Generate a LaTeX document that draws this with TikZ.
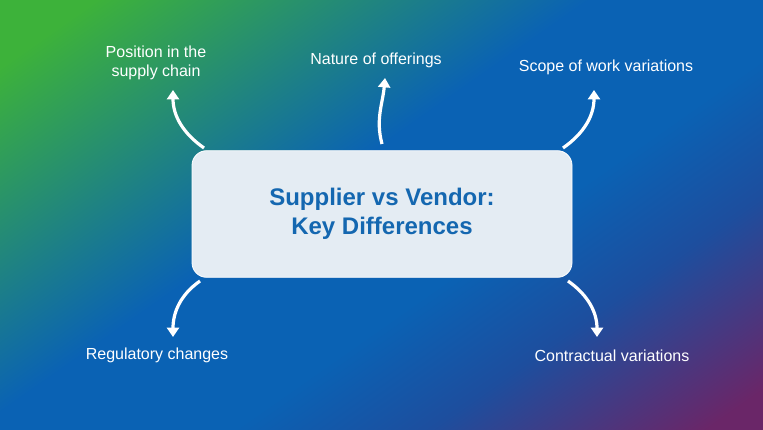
\documentclass[tikz,border=0pt]{standalone}
\usepackage{fontspec}
\setmainfont{Liberation Sans}
\usetikzlibrary{arrows.meta}
\definecolor{gA}{HTML}{3DB23A}
\definecolor{gB}{HTML}{0A62B4}
\definecolor{gC}{HTML}{1D4E9E}
\definecolor{gD}{HTML}{6A2668}
\definecolor{titleblue}{HTML}{1467B0}
\definecolor{boxfill}{HTML}{E4ECF3}
\pgfdeclarehorizontalshading{bgshade}{100bp}{color(0bp)=(gA); color(20bp)=(gA); color(45bp)=(gB); color(58bp)=(gB); color(68bp)=(gC); color(82bp)=(gD); color(100bp)=(gD)}
\tikzset{
  lbl/.style={text=white, font=\fontsize{12}{14}\selectfont, align=center},
  arr/.style={white, line width=2.4pt, -{Triangle[length=7pt,width=9pt]}},
}
\begin{document}
\begin{tikzpicture}[x=0.75pt,y=-0.75pt]
\useasboundingbox (0,0) rectangle (763,429);
\begin{scope}
\clip (0,0) rectangle (763,429);
\shade[shading=bgshade, shading angle=-55] (0,0) rectangle (763,429);
\end{scope}
\node[draw=white, line width=0.6pt, fill=boxfill, rounded corners=11pt, minimum width=285pt, minimum height=95pt, text=titleblue, font=\bfseries\fontsize{18}{22}\selectfont, align=center] (box) at (382,214) {Supplier vs Vendor:\\Key Differences};
\node[lbl] (t1) at (156,63) {Position in the\\supply chain};
\node[lbl] (t2) at (376,60) {Nature of offerings};
\node[lbl] (t3) at (606,67) {Scope of work variations};
\node[lbl] (t4) at (157,355) {Regulatory changes};
\node[lbl] (t5) at (612,356) {Contractual variations};
\coordinate (a1s) at (204,148); \coordinate (a1e) at (173,90);
\coordinate (a2s) at (382,144); \coordinate (a2e) at (385,78);
\coordinate (a3s) at (563,148); \coordinate (a3e) at (594,90);
\coordinate (a4s) at (200,281); \coordinate (a4e) at (173,337);
\coordinate (a5s) at (568,281); \coordinate (a5e) at (597,337);
\draw[arr] (a1s) to[out=145,in=-90] (a1e);
\draw[arr] (a2s) to[out=105,in=-95] (a2e);
\draw[arr] (a3s) to[out=35,in=-90] (a3e);
\draw[arr] (a4s) to[out=-145,in=90] (a4e);
\draw[arr] (a5s) to[out=-35,in=90] (a5e);
\end{tikzpicture}
\end{document}
